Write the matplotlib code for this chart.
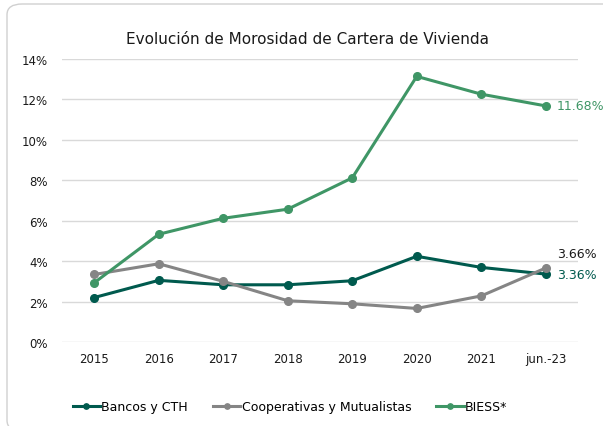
import matplotlib
matplotlib.use("Agg")
import matplotlib.pyplot as plt
from matplotlib.patches import FancyBboxPatch
from matplotlib.ticker import FuncFormatter

years = ["2015", "2016", "2017", "2018", "2019", "2020", "2021", "jun.-23"]
bancos = [2.20, 3.05, 2.83, 2.83, 3.03, 4.24, 3.69, 3.36]
cooperativas = [3.34, 3.87, 3.00, 2.04, 1.89, 1.66, 2.28, 3.66]
biess = [2.93, 5.33, 6.12, 6.57, 8.12, 13.14, 12.26, 11.68]

c_bancos = "#005a4e"
c_coop = "#858585"
c_biess = "#3f9666"

W, H = 603, 427
fig = plt.figure(figsize=(W / 100, H / 100), dpi=100)
ax = fig.add_axes([62 / W, 1 - 343 / H, 516 / W, 283 / H])

# chart border (rounded box, runs off the right and bottom edges)
border = FancyBboxPatch((7 / W, -5 / H), 612 / W, 427 / H,
                        boxstyle="round,pad=0,rounding_size=0.025",
                        transform=fig.transFigure, fill=False,
                        edgecolor="#d0d0d0", linewidth=1.0, clip_on=False)
fig.patches.append(border)

x = list(range(len(years)))
ax.plot(x, bancos, color=c_bancos, lw=2.2, marker="o", ms=5.5, label="Bancos y CTH", zorder=3)
ax.plot(x, cooperativas, color=c_coop, lw=2.2, marker="o", ms=5.5,
        label="Cooperativas y Mutualistas", zorder=3)
ax.plot(x, biess, color=c_biess, lw=2.2, marker="o", ms=5.5, label="BIESS*", zorder=3)

ax.set_xlim(-0.5, len(years) - 0.5)
ax.set_ylim(0, 14)
ax.set_yticks(range(0, 15, 2))
ax.yaxis.set_major_formatter(FuncFormatter(lambda v, p: f"{v:.0f}%"))
ax.set_xticks(x)
ax.set_xticklabels(years)
ax.grid(axis="y", color="#d9d9d9", lw=1)
ax.set_axisbelow(True)
for s in ax.spines.values():
    s.set_visible(False)
ax.tick_params(length=0, labelsize=8.5, colors="#1a1a1a")
ax.tick_params(axis="y", pad=10)
ax.tick_params(axis="x", pad=7)

last = len(years) - 1
ax.annotate(f"{cooperativas[-1]:.2f}%", (last, cooperativas[-1]), xytext=(8, 6),
            textcoords="offset points", color="#1a1a1a", fontsize=9, va="bottom")
ax.annotate(f"{bancos[-1]:.2f}%", (last, bancos[-1]), xytext=(8, 0),
            textcoords="offset points", color=c_bancos, fontsize=9, va="center")
ax.annotate(f"{biess[-1]:.2f}%", (last, biess[-1]), xytext=(8, 0),
            textcoords="offset points", color=c_biess, fontsize=9, va="center")

fig.text(307 / W, 1 - 40 / H, "Evolución de Morosidad de Cartera de Vivienda",
         ha="center", va="center", fontsize=11, color="#1a1a1a")

fig.legend(loc="center", bbox_to_anchor=(290 / W, 1 - 408 / H), ncol=3,
           frameon=False, fontsize=9, handlelength=2.2, handletextpad=0.1,
           columnspacing=2.0, markerscale=0.7)

fig.savefig("out.png", dpi=100)
